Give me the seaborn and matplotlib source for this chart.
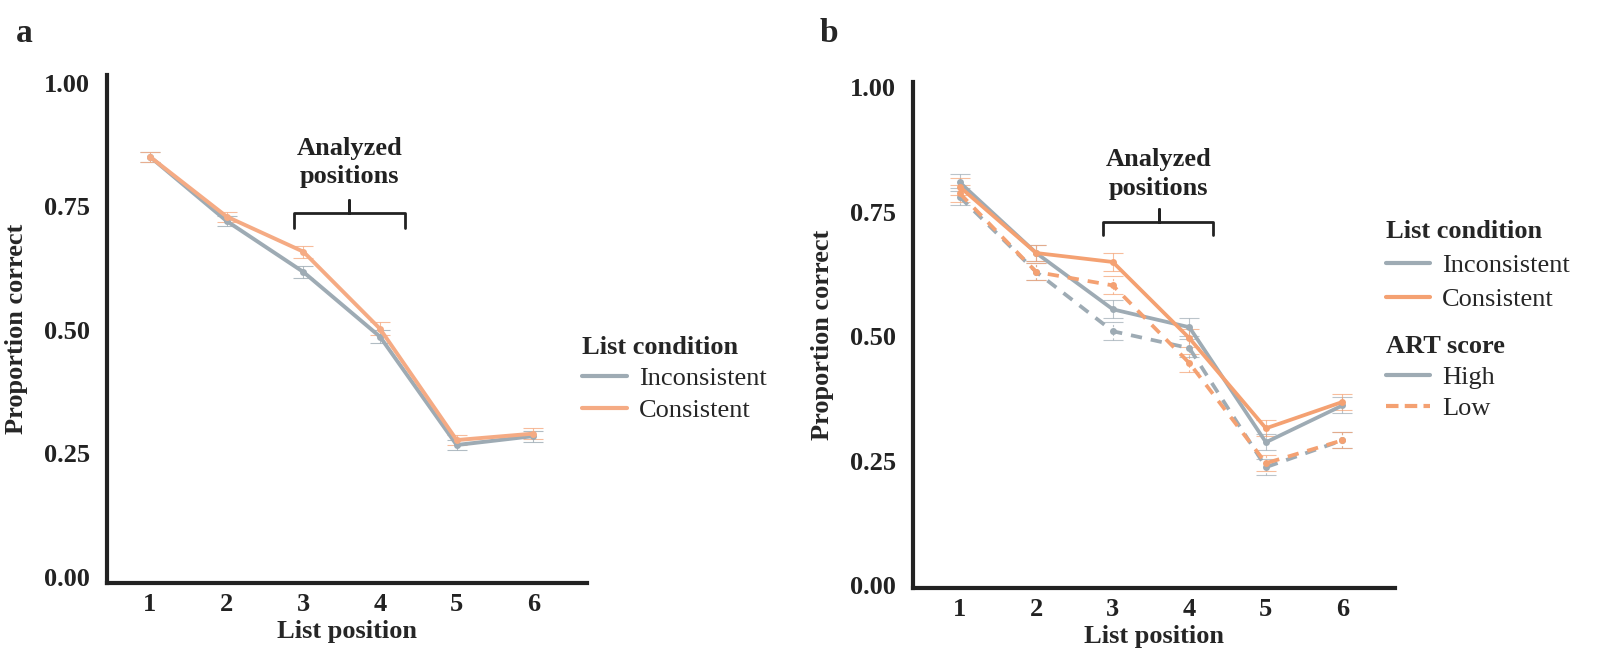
import pandas as pd
import matplotlib.pyplot as plt
import matplotlib.lines as mlines
import seaborn as sns

# Data
positions = [1, 2, 3, 4, 5, 6]

# panel a
a_inconsistent = [0.850, 0.720, 0.617, 0.486, 0.267, 0.285]
a_consistent = [0.850, 0.729, 0.658, 0.502, 0.277, 0.290]
a_se_inconsistent = [0.010, 0.010, 0.013, 0.013, 0.011, 0.011]
a_se_consistent = [0.010, 0.010, 0.012, 0.013, 0.011, 0.011]

# panel b (condition x ART score)
b_inc_high = [0.809, 0.667, 0.554, 0.518, 0.287, 0.361]
b_con_high = [0.800, 0.667, 0.649, 0.496, 0.315, 0.368]
b_inc_low = [0.780, 0.629, 0.510, 0.476, 0.237, 0.291]
b_con_low = [0.787, 0.629, 0.602, 0.446, 0.245, 0.291]
b_se = [0.017, 0.017, 0.018, 0.018, 0.016, 0.016]

conditions = ['Inconsistent', 'Consistent']
art_levels = ['High', 'Low']

grey = '#9eabb4'
orange = '#f4a172'
orange_a = '#f5ab84'

sns.set_theme(style='white')
plt.rcParams['font.family'] = ['Liberation Serif', 'DejaVu Serif']

df_a = pd.DataFrame({
    'position': positions * 2,
    'prop': a_inconsistent + a_consistent,
    'se': a_se_inconsistent + a_se_consistent,
    'condition': ['Inconsistent'] * 6 + ['Consistent'] * 6,
})

df_b = pd.DataFrame({
    'position': positions * 4,
    'prop': b_inc_high + b_con_high + b_inc_low + b_con_low,
    'se': b_se * 4,
    'condition': (['Inconsistent'] * 6 + ['Consistent'] * 6) * 2,
    'art': ['High'] * 12 + ['Low'] * 12,
})

fig = plt.figure(figsize=(16, 6.55), dpi=100)
ax_a = fig.add_axes([0.0669, 0.110, 0.300, 0.776])
ax_b = fig.add_axes([0.5706, 0.102, 0.301, 0.7725])

# --- panel a ---
pal_a = {'Inconsistent': grey, 'Consistent': orange_a}
for cond in conditions:
    sub = df_a[df_a['condition'] == cond]
    ax_a.errorbar(sub['position'], sub['prop'], yerr=sub['se'], fmt='none',
                  ecolor=pal_a[cond], elinewidth=0.8, capsize=7, capthick=0.8,
                  alpha=0.8, zorder=1)
sns.lineplot(data=df_a, x='position', y='prop', hue='condition',
             hue_order=conditions, palette=pal_a, linewidth=2.8,
             marker='o', markersize=5, markeredgewidth=0, ax=ax_a,
             legend=False, zorder=3)

# --- panel b ---
pal_b = {'Inconsistent': grey, 'Consistent': orange}
for cond in conditions:
    for art in art_levels:
        sub = df_b[(df_b['condition'] == cond) & (df_b['art'] == art)]
        ls = '-' if art == 'High' else (0, (2, 2))
        eb = ax_b.errorbar(sub['position'], sub['prop'], yerr=sub['se'],
                           fmt='none', ecolor=pal_b[cond], elinewidth=0.8,
                           capsize=7, capthick=0.8, alpha=0.7, zorder=1)
        eb[2][0].set_linestyle(ls)
sns.lineplot(data=df_b, x='position', y='prop', hue='condition', style='art',
             hue_order=conditions, style_order=art_levels, palette=pal_b,
             dashes={'High': '', 'Low': (3, 2.4)}, linewidth=2.7,
             markers={'High': 'o', 'Low': 'o'}, markersize=5,
             markeredgewidth=0, ax=ax_b, legend=False, zorder=3)

tick_font = dict(fontsize=19, fontweight='bold')
for ax, ylim, xlim in [(ax_a, (-0.012, 1.016), (0.44, 6.70)),
                       (ax_b, (-0.006, 1.010), (0.39, 6.68))]:
    ax.set_xlim(*xlim)
    ax.set_ylim(*ylim)
    ax.set_xticks(positions)
    ax.set_yticks([0, 0.25, 0.5, 0.75, 1.0])
    ax.set_xticklabels([str(p) for p in positions], **tick_font)
    ax.set_yticklabels(['0.00', '0.25', '0.50', '0.75', '1.00'], **tick_font)
    ax.tick_params(axis='x', length=0, pad=7, colors='#222222')
    ax.tick_params(axis='y', length=0, pad=12, colors='#222222')
    for s in ['top', 'right']:
        ax.spines[s].set_visible(False)
    for s in ['left', 'bottom']:
        ax.spines[s].set_color('#222222')
        ax.spines[s].set_linewidth(3)
    ax.set_xlabel('List position', fontsize=19, fontweight='bold', labelpad=3)
    ax.set_ylabel('Proportion correct', fontsize=19, fontweight='bold', labelpad=12)

# brackets + "Analyzed positions"
def bracket(ax, x0, x1, xm, yb, yh, yt, ytext):
    ax.plot([x0, x0, xm, xm, xm, x1, x1], [yb, yh, yh, yt, yh, yh, yb],
            color='#222222', linewidth=2, solid_joinstyle='round',
            solid_capstyle='round', zorder=4)
    ax.text(xm, ytext, 'Analyzed\npositions', ha='center', va='center',
            fontsize=19, fontweight='bold', linespacing=1.3, color='#222222')

bracket(ax_a, 2.88, 4.33, 3.60, 0.705, 0.737, 0.762, 0.838)
bracket(ax_b, 2.87, 4.31, 3.60, 0.703, 0.729, 0.756, 0.826)

# legends
def handle(color, ls='-'):
    return mlines.Line2D([], [], color=color, linewidth=3, linestyle=ls)

leg_kw = dict(frameon=False, fontsize=19, title_fontsize=19, alignment='left',
              handlelength=1.7, handletextpad=0.45, borderaxespad=0, borderpad=0)

leg_a = fig.legend([handle(grey), handle(orange_a)], conditions,
                   title='List condition', loc='upper left', labelspacing=0.3,
                   bbox_to_anchor=(0.364, 0.487), **leg_kw)
leg_a.get_title().set_fontweight('bold')

leg_b1 = fig.legend([handle(grey), handle(orange)], conditions,
                    title='List condition', loc='upper left', labelspacing=0.4,
                    bbox_to_anchor=(0.866, 0.664), **leg_kw)
leg_b1.get_title().set_fontweight('bold')
leg_b2 = fig.legend([handle(grey), handle(orange, (0, (3, 1.5)))], art_levels,
                    title='ART score', loc='upper left', labelspacing=0.3,
                    bbox_to_anchor=(0.866, 0.489), **leg_kw)
leg_b2.get_title().set_fontweight('bold')

fig.text(0.010, 0.972, 'a', fontsize=24, fontweight='bold', va='top')
fig.text(0.512, 0.972, 'b', fontsize=24, fontweight='bold', va='top')

fig.savefig('out.png', dpi=100, facecolor='white')
